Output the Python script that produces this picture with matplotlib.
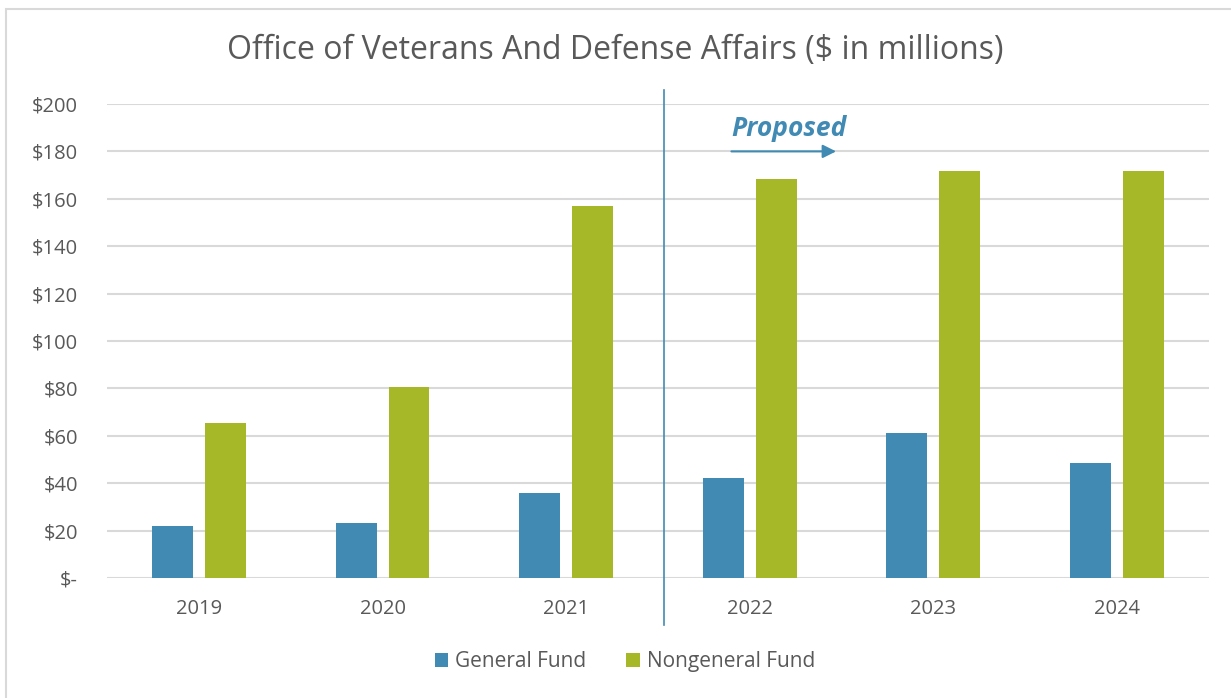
import matplotlib.pyplot as plt
import matplotlib.patches as patches
import numpy as np

plt.rcParams['font.family'] = ['Open Sans', 'DejaVu Sans']

# data
years = ['2019', '2020', '2021', '2022', '2023', '2024']
general_fund = [22.0, 23.0, 36.0, 42.0, 61.1, 48.7]
nongeneral_fund = [65.4, 80.6, 157.0, 168.2, 171.7, 171.7]
yticks = [0, 20, 40, 60, 80, 100, 120, 140, 160, 180, 200]
ytick_labels = ['$-'] + [f'${v}' for v in yticks[1:]]

blue = '#418AB3'
green = '#A6B727'
grey_text = '#595959'

fig = plt.figure(figsize=(12.31, 6.98), dpi=100)
ax = fig.add_axes([0.087, 0.172, 0.895, 0.679])

x = np.arange(len(years))
w = 0.223
off = 0.144
ax.bar(x - off, general_fund, w, color=blue, label='General Fund', zorder=3)
ax.bar(x + off, nongeneral_fund, w, color=green, label='Nongeneral Fund', zorder=3)

ax.set_xlim(-0.5, len(years) - 0.5)
ax.set_ylim(0, 200)
ax.set_yticks(yticks)
ax.set_yticklabels(ytick_labels)
ax.set_xticks(x)
ax.set_xticklabels(years)
ax.tick_params(length=0, labelsize=14.5, colors=grey_text)
ax.tick_params(axis='y', pad=21)
ax.tick_params(axis='x', pad=15)
for s in ax.spines.values():
    s.set_visible(False)
ax.yaxis.grid(True, color='#D9D9D9', linewidth=1.5, zorder=0)

# divider between actual and proposed years
ax.axvline(2.535, ymin=-0.099, ymax=1.03, color=blue, linewidth=1.2, clip_on=False, zorder=4)

# white box behind the "Proposed" note, hides the gridlines
ax.add_patch(patches.Rectangle((2.71, 168), 1.07, 34, facecolor='white',
                               edgecolor='none', zorder=1))
ax.text(2.9, 189.5, 'Proposed', color=blue, fontsize=19, style='italic',
        fontweight='bold', ha='left', va='center', zorder=5)
ax.annotate('', xy=(3.47, 180), xytext=(2.9, 180),
            arrowprops=dict(arrowstyle='-|>', color=blue, lw=1.5,
                            mutation_scale=20, shrinkA=0, shrinkB=0), zorder=5)

fig.suptitle('Office of Veterans And Defense Affairs ($ in millions)',
             y=0.928, va='center', fontsize=23, color=grey_text)

ax.legend(loc='center', bbox_to_anchor=(0.47, -0.177), ncol=2, frameon=False,
          fontsize=15, labelcolor=grey_text, handlelength=0.65, handleheight=0.65,
          handletextpad=0.35, columnspacing=1.9)

# chart border (only top and left edges show in the frame)
fig.add_artist(patches.Rectangle((0.0049, -0.02), 1.1, 1.0128 - 0.0054, transform=fig.transFigure,
                                 facecolor='none', edgecolor='#D9D9D9', linewidth=1.5))

fig.savefig('out.png', dpi=100)
